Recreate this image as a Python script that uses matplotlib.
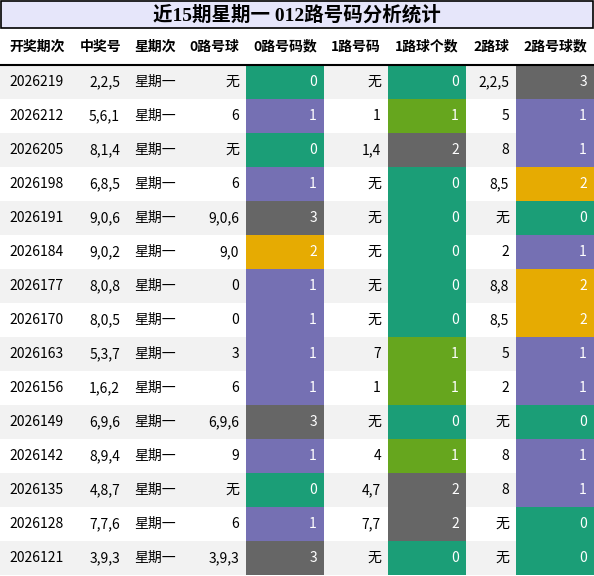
import matplotlib
matplotlib.use("Agg")
import matplotlib.pyplot as plt
from matplotlib.patches import Rectangle

plt.rcParams['font.family'] = ['Noto Sans CJK SC', 'DejaVu Sans']

title = "近15期星期一 012路号码分析统计"
headers = ["开奖期次", "中奖号", "星期次", "0路号球", "0路号码数", "1路号码", "1路球个数", "2路球", "2路号球数"]
periods = ["2026219","2026212","2026205","2026198","2026191","2026184","2026177","2026170","2026163","2026156","2026149","2026142","2026135","2026128","2026121"]
numbers = ["2,2,5","5,6,1","8,1,4","6,8,5","9,0,6","9,0,2","8,0,8","8,0,5","5,3,7","1,6,2","6,9,6","8,9,4","4,8,7","7,7,6","3,9,3"]
weekday = ["星期一"] * 15
road0 = ["无","6","无","6","9,0,6","9,0","0","0","3","6","6,9,6","9","无","6","3,9,3"]
road0_cnt = [0,1,0,1,3,2,1,1,1,1,3,1,0,1,3]
road1 = ["无","1","1,4","无","无","无","无","无","7","1","无","4","4,7","7,7","无"]
road1_cnt = [0,1,2,0,0,0,0,0,1,1,0,1,2,2,0]
road2 = ["2,2,5","5","8","8,5","无","2","8,8","8,5","5","2","无","8","8","无","无"]
road2_cnt = [3,1,1,2,0,1,2,2,1,1,0,1,1,0,0]

cmap02 = {0: "#1b9e77", 1: "#7570b3", 2: "#e6ab02", 3: "#666666"}
cmap1 = {0: "#1b9e77", 1: "#66a61e", 2: "#666666"}

W, H = 594, 576
fig = plt.figure(figsize=(W/100, H/100), dpi=100)
ax = fig.add_axes([0, 0, 1, 1])
ax.set_xlim(0, W); ax.set_ylim(H, 0); ax.axis('off')

edges = [0, 75, 127, 183, 246, 324, 388, 466, 516, 594]
# title
ax.add_patch(Rectangle((1, 1), W-2, 27, facecolor="#e6e6fa", edgecolor="black", lw=1.2))
ax.text(W/2, 15, title, ha='center', va='center', fontsize=14, fontweight='bold',
        family=['Liberation Serif', 'Noto Sans CJK SC'])
# header
hy0, hy1 = 28, 65
for i, h in enumerate(headers):
    ax.text((edges[i]+edges[i+1])/2, (hy0+hy1)/2, h, ha='center', va='center', fontsize=10, fontweight='bold')
ax.plot([0, W], [hy1, hy1], color='black', lw=1.5)

rh = 34
for r in range(15):
    y0 = hy1 + r*rh
    yc = y0 + rh/2
    bg = "#f2f2f2" if r % 2 == 0 else "white"
    ax.add_patch(Rectangle((0, y0), W, rh, facecolor=bg, edgecolor='none'))
    for ci, val, cm in [(4, road0_cnt[r], cmap02), (6, road1_cnt[r], cmap1), (8, road2_cnt[r], cmap02)]:
        ax.add_patch(Rectangle((edges[ci], y0), edges[ci+1]-edges[ci], rh, facecolor=cm[val], edgecolor='none'))
        ax.text(edges[ci+1]-7, yc, str(val), ha='right', va='center', fontsize=10, color='white')
    ax.text(9, yc, periods[r], ha='left', va='center', fontsize=10)
    ax.text(edges[2]-7, yc, numbers[r], ha='right', va='center', fontsize=10)
    ax.text(edges[2]+7, yc, weekday[r], ha='left', va='center', fontsize=10)
    ax.text(edges[4]-7, yc, road0[r], ha='right', va='center', fontsize=10)
    ax.text(edges[6]-7, yc, road1[r], ha='right', va='center', fontsize=10)
    ax.text(edges[8]-7, yc, road2[r], ha='right', va='center', fontsize=10)

fig.savefig("out.png", dpi=100)
